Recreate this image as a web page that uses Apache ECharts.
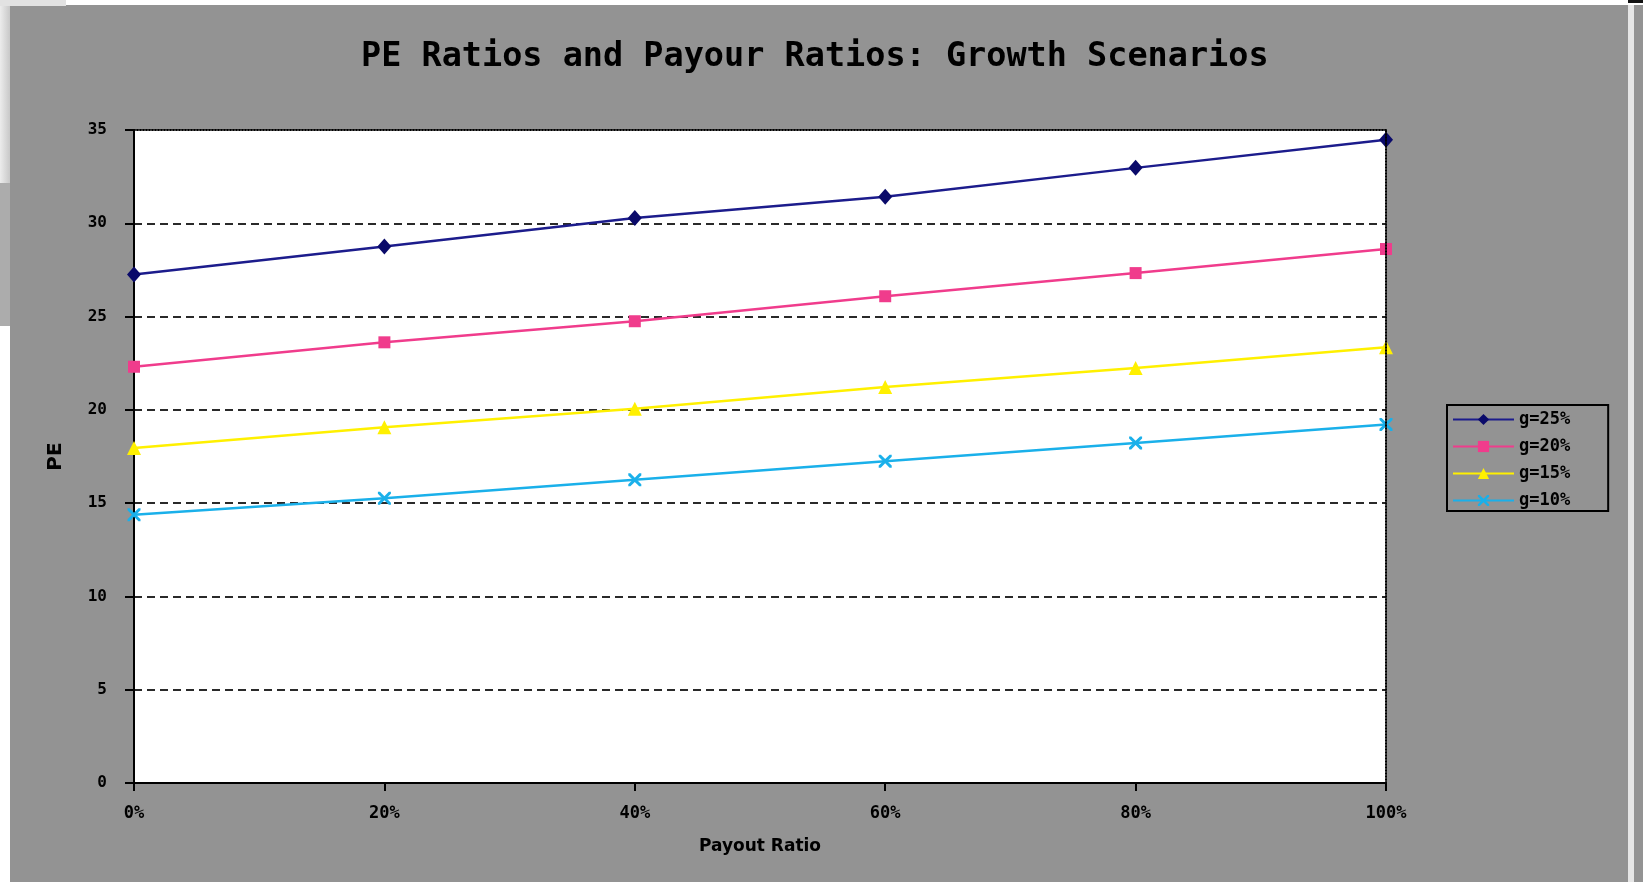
<!DOCTYPE html>
<html>
<head>
<meta charset="utf-8">
<script src="https://cdn.jsdelivr.net/npm/echarts@6/dist/echarts.min.js"></script>
<style>
  html, body { margin: 0; padding: 0; background: #ffffff; }
  #chart { width: 1643px; height: 882px; }
</style>
</head>
<body>
<div id="chart"></div>
<script>
// ---- data ----
const payoutLabels = ['0%', '20%', '40%', '60%', '80%', '100%'];
const seriesNames = ['g=25%', 'g=20%', 'g=15%', 'g=10%'];
const pe_g25 = [27.25, 28.76, 30.28, 31.42, 32.97, 34.48];
const pe_g20 = [22.31, 23.62, 24.75, 26.09, 27.33, 28.62];
const pe_g15 = [17.95, 19.07, 20.06, 21.22, 22.24, 23.35];
const pe_g10 = [14.38, 15.26, 16.25, 17.25, 18.23, 19.22];
const yTicks = [0, 5, 10, 15, 20, 25, 30, 35];

const GRAY = '#939393';
const xMarker = 'path://M0,0 L1.6,0 L5,3.4 L8.4,0 L10,0 L10,1.6 L6.6,5 L10,8.4 L10,10 L8.4,10 L5,6.6 L1.6,10 L0,10 L0,8.4 L3.4,5 L0,1.6 Z';

const styles = [
  { color: '#1c1c8c', symbol: 'diamond', size: [14, 16], mcolor: '#0a0a6a' },
  { color: '#f03c8c', symbol: 'rect', size: 12, mcolor: '#f03c8c' },
  { color: '#fff000', symbol: 'triangle', size: 14, mcolor: '#fff000' },
  { color: '#1ab0ea', symbol: xMarker, size: 13, mcolor: '#1ab0ea' }
];
const values = [pe_g25, pe_g20, pe_g15, pe_g10];

const chart = echarts.init(document.getElementById('chart'), null, { renderer: 'canvas' });

const series = seriesNames.map((name, i) => ({
  name: name,
  type: 'line',
  data: values[i],
  symbol: styles[i].symbol,
  symbolSize: styles[i].size,
  showAllSymbol: true,
  lineStyle: { color: styles[i].color, width: 2.5 },
  itemStyle: { color: styles[i].mcolor, borderWidth: 0 },
  emphasis: { disabled: true },
  animation: false,
  z: 10 - i
}));

const option = {
  backgroundColor: GRAY,
  animation: false,
  title: {
    text: 'PE Ratios and Payour Ratios: Growth Scenarios',
    left: 361,
    top: 40,
    padding: 0,
    textStyle: {
      fontFamily: 'DejaVu Sans Mono',
      fontWeight: 'bold',
      fontSize: 33.5,
      color: '#000'
    }
  },
  legend: {
    orient: 'vertical',
    left: 1447,
    top: 405,
    padding: [6, 38, 2, 5],
    itemGap: 10,
    itemWidth: 61,
    itemHeight: 14,
    borderColor: '#000',
    borderWidth: 2,
    backgroundColor: GRAY,
    borderRadius: 0,
    data: seriesNames,
    textStyle: {
      fontFamily: 'DejaVu Sans Mono',
      fontWeight: 'bold',
      fontSize: 17,
      color: '#000'
    }
  },
  grid: {
    left: 134,
    right: 257,
    top: 130,
    bottom: 99,
    show: true,
    backgroundColor: '#ffffff',
    borderWidth: 0
  },
  xAxis: [{
    type: 'category',
    data: payoutLabels,
    boundaryGap: false,
    name: 'Payout Ratio',
    nameLocation: 'middle',
    nameGap: 55,
    nameTextStyle: {
      fontFamily: 'DejaVu Sans',
      fontWeight: 'bold',
      fontSize: 17,
      color: '#000'
    },
    axisLine: { show: true, lineStyle: { color: '#000', width: 2 } },
    axisTick: { show: true, alignWithLabel: true, length: 8, lineStyle: { color: '#000', width: 2 } },
    axisLabel: {
      fontFamily: 'DejaVu Sans Mono',
      fontWeight: 'bold',
      fontSize: 17,
      color: '#000',
      margin: 22
    },
    splitLine: { show: false }
  }, {
    type: 'category',
    data: payoutLabels,
    boundaryGap: false,
    position: 'top',
    axisLine: { show: true, onZero: false, lineStyle: { color: '#000', width: 2, type: [1, 2] } },
    axisTick: { show: false },
    axisLabel: { show: false },
    splitLine: { show: false },
    z: 20
  }],
  yAxis: [{
    type: 'value',
    min: 0,
    max: 35,
    interval: 5,
    name: 'PE',
    nameLocation: 'middle',
    nameGap: 68,
    nameTextStyle: {
      fontFamily: 'DejaVu Sans',
      fontWeight: 'bold',
      fontSize: 20,
      color: '#000'
    },
    axisLine: { show: true, lineStyle: { color: '#000', width: 2 } },
    axisTick: { show: true, length: 9, lineStyle: { color: '#000', width: 2 } },
    axisLabel: {
      fontFamily: 'DejaVu Sans Mono',
      fontWeight: 'bold',
      fontSize: 16,
      color: '#000',
      margin: 27,
      customValues: yTicks
    },
    splitLine: {
      show: true,
      showMinLine: false,
      showMaxLine: false,
      lineStyle: { color: '#2a2a2a', width: 2, type: [8, 5] }
    }
  }, {
    type: 'value',
    min: 0,
    max: 35,
    interval: 5,
    position: 'right',
    axisLine: { show: true, onZero: false, lineStyle: { color: '#000', width: 2, type: [1, 2] } },
    axisTick: { show: false },
    axisLabel: { show: false },
    splitLine: { show: false },
    z: 20
  }],
  graphic: [
    // screenshot frame artifacts
    { type: 'rect', left: 0, top: 0, shape: { width: 1643, height: 5 }, style: { fill: '#ffffff' }, z: 100 },
    { type: 'rect', left: 0, top: 0, shape: { width: 10, height: 882 }, style: { fill: '#ffffff' }, z: 100 },
    { type: 'rect', left: 0, top: 0, shape: { width: 66, height: 6 }, style: { fill: '#e2e2e2' }, z: 101 },
    { type: 'rect', left: 0, top: 6, shape: { width: 10, height: 177 }, style: {
        fill: new echarts.graphic.LinearGradient(0, 0, 1, 0, [{ offset: 0, color: '#ececec' }, { offset: 1, color: '#c8c8c8' }]) }, z: 101 },
    { type: 'rect', left: 0, top: 183, shape: { width: 10, height: 143 }, style: { fill: '#acacac' }, z: 101 },
    { type: 'rect', left: 1628, top: 5, shape: { width: 6, height: 877 }, style: { fill: '#e6e6e6' }, z: 100 },
    { type: 'rect', left: 1628, top: 0, shape: { width: 15, height: 3 }, style: { fill: '#111111' }, z: 101 }
  ],
  series: series
};

chart.setOption(option);
</script>
</body>
</html>
